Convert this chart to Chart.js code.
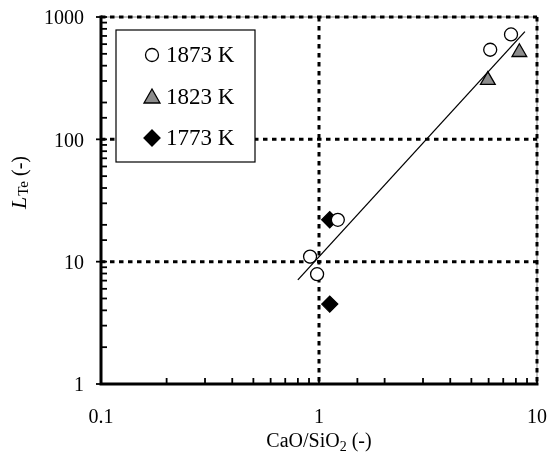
<!DOCTYPE html>
<html>
<head>
<meta charset="utf-8">
<script src="https://cdn.jsdelivr.net/npm/chart.js@4/dist/chart.umd.min.js"></script>
<style>
html,body{margin:0;padding:0;background:#fff;}
#wrap{width:550px;height:464px;}
</style>
</head>
<body>
<div id="wrap"><canvas id="c" width="550" height="464"></canvas></div>
<script>
// ---- data ----
const seriesLabels = ["1873 K", "1823 K", "1773 K"];
const x1873 = [0.91, 0.98, 1.22, 6.1, 7.6];
const y1873 = [11, 7.9, 22, 540, 720];
const x1823 = [5.95, 8.3];
const y1823 = [305, 515];
const x1773 = [1.12, 1.12];
const y1773 = [22, 4.5];
const fitX = [0.8, 8.8];
const fitY = [7.1, 760];
const xTickLabels = ["0.1", "1", "10"];
const yTickLabels = ["1", "10", "100", "1000"];

const FONT = "'Liberation Serif', 'DejaVu Serif', serif";
const pts = (xs, ys) => xs.map((x, i) => ({x: x, y: ys[i]}));
const majorX = xTickLabels.map(Number);
const majorY = yTickLabels.map(Number);
const isMajor = (v, arr) => arr.some(m => Math.abs(m - v) / m < 1e-6);

function drawMarker(ctx, style, x, y) {
  ctx.save();
  ctx.lineWidth = 1.3;
  ctx.strokeStyle = '#000';
  ctx.beginPath();
  if (style === 'circle') {
    ctx.fillStyle = '#fff';
    ctx.arc(x, y, 6.5, 0, Math.PI * 2);
  } else if (style === 'triangle') {
    ctx.fillStyle = '#8c8c8c';
    ctx.moveTo(x, y - 8);
    ctx.lineTo(x + 8, y + 6);
    ctx.lineTo(x - 8, y + 6);
    ctx.closePath();
  } else {
    ctx.fillStyle = '#000';
    ctx.moveTo(x, y - 8);
    ctx.lineTo(x + 8, y);
    ctx.lineTo(x, y + 8);
    ctx.lineTo(x - 8, y);
    ctx.closePath();
  }
  ctx.fill();
  ctx.stroke();
  ctx.restore();
}

const decor = {
  id: 'decor',
  beforeDatasetsDraw(chart) {
    const {ctx, chartArea: a, scales: {x, y}} = chart;
    ctx.save();
    // thin frame
    ctx.strokeStyle = '#888';
    ctx.lineWidth = 1;
    ctx.strokeRect(a.left, a.top, a.right - a.left, a.bottom - a.top);
    // major dashed grid
    ctx.strokeStyle = '#000';
    ctx.lineWidth = 3;
    ctx.setLineDash([4.5, 4.5]);
    majorY.forEach(v => {
      if (v === y.min) return;
      const py = y.getPixelForValue(v);
      ctx.beginPath(); ctx.moveTo(a.left, py); ctx.lineTo(a.right, py); ctx.stroke();
    });
    majorX.forEach(v => {
      if (v === x.min) return;
      const px = x.getPixelForValue(v);
      ctx.beginPath(); ctx.moveTo(px, a.top); ctx.lineTo(px, a.bottom); ctx.stroke();
    });
    ctx.restore();
  },
  afterDatasetsDraw(chart) {
    const {ctx, chartArea: a, scales: {x, y}} = chart;
    ctx.save();
    ctx.strokeStyle = '#000';
    // inward minor/major ticks
    ctx.lineWidth = 1.8;
    y.ticks.forEach(t => {
      const py = y.getPixelForValue(t.value);
      const mj = isMajor(t.value, majorY);
      ctx.beginPath(); ctx.moveTo(a.left - (mj ? 5 : 0), py); ctx.lineTo(a.left + 6, py); ctx.stroke();
    });
    x.ticks.forEach(t => {
      const px = x.getPixelForValue(t.value);
      ctx.beginPath(); ctx.moveTo(px, a.bottom); ctx.lineTo(px, a.bottom - 6); ctx.stroke();
    });
    // axes
    ctx.lineWidth = 3;
    ctx.beginPath();
    ctx.moveTo(a.left, a.top - 1.5);
    ctx.lineTo(a.left, a.bottom);
    ctx.lineTo(a.right + 1.5, a.bottom);
    ctx.stroke();

    // tick labels
    ctx.fillStyle = '#000';
    ctx.font = "20px " + FONT;
    ctx.textBaseline = 'middle';
    ctx.textAlign = 'right';
    yTickLabels.forEach((lab, i) => {
      const py = y.getPixelForValue(majorY[i]);
      ctx.fillText(lab, a.left - 17, py + 2);
    });
    ctx.textAlign = 'center';
    xTickLabels.forEach((lab, i) => {
      const px = x.getPixelForValue(majorX[i]);
      ctx.fillText(lab, px, a.bottom + 34);
    });

    // legend
    const lx = 116, ly = 30, lw = 139, lh = 132;
    ctx.fillStyle = '#fff';
    ctx.fillRect(lx, ly, lw, lh);
    ctx.lineWidth = 1.2;
    ctx.strokeRect(lx, ly, lw, lh);
    const styles = ['circle', 'triangle', 'rectRot'];
    const rows = [55, 97, 138];
    ctx.font = "23px " + FONT;
    ctx.textBaseline = 'middle';
    ctx.textAlign = 'left';
    seriesLabels.forEach((lab, i) => {
      drawMarker(ctx, styles[i], 152, rows[i]);
      ctx.fillStyle = '#000';
      ctx.fillText(lab, 166, rows[i] + 1);
    });

    // x axis title with subscript
    ctx.textBaseline = 'alphabetic';
    const cx = (a.left + a.right) / 2;
    const by = 447;
    const p1 = "CaO/SiO", p3 = " (-)";
    ctx.font = "20px " + FONT; const w1 = ctx.measureText(p1).width;
    ctx.font = "14px " + FONT; const w2 = ctx.measureText("2").width;
    ctx.font = "20px " + FONT; const w3 = ctx.measureText(p3).width;
    let sx = cx - (w1 + w2 + w3) / 2;
    ctx.fillText(p1, sx, by); sx += w1;
    ctx.font = "14px " + FONT; ctx.fillText("2", sx, by + 4); sx += w2;
    ctx.font = "20px " + FONT; ctx.fillText(p3, sx, by);

    // y axis title
    ctx.save();
    ctx.translate(26, 183);
    ctx.rotate(-Math.PI / 2);
    ctx.font = "italic 22px " + FONT; const q1 = ctx.measureText("L").width;
    ctx.font = "15px " + FONT; const q2 = ctx.measureText("Te").width;
    ctx.font = "20px " + FONT; const q3 = ctx.measureText(" (-)").width;
    let tx = -(q1 + q2 + q3) / 2;
    ctx.font = "italic 22px " + FONT; ctx.fillText("L", tx, 0); tx += q1 + 1;
    ctx.font = "15px " + FONT; ctx.fillText("Te", tx, 2); tx += q2;
    ctx.font = "20px " + FONT; ctx.fillText(" (-)", tx, 0);
    ctx.restore();
    ctx.restore();
  }
};

const pointCommon = {borderColor: '#000', borderWidth: 1.3, pointRadius: 6.5, pointHoverRadius: 6.5, showLine: false};

new Chart(document.getElementById('c'), {
  type: 'scatter',
  data: {
    datasets: [
      {label: 'fit', data: pts(fitX, fitY), showLine: true, borderColor: '#000', borderWidth: 1.3, pointRadius: 0, fill: false},
      Object.assign({label: seriesLabels[0], data: pts(x1873, y1873), pointStyle: 'circle', backgroundColor: '#fff'}, pointCommon),
      Object.assign({label: seriesLabels[1], data: pts(x1823, y1823), pointStyle: 'triangle', backgroundColor: '#8c8c8c'}, pointCommon, {pointRadius: 8.5}),
      Object.assign({label: seriesLabels[2], data: pts(x1773, y1773), pointStyle: 'rectRot', backgroundColor: '#000'}, pointCommon, {pointRadius: 8})
    ]
  },
  options: {
    responsive: false,
    animation: false,
    devicePixelRatio: 1,
    layout: {padding: {left: 0, top: 17, right: 13, bottom: 0}},
    plugins: {legend: {display: false}, tooltip: {enabled: false}},
    scales: {
      x: {
        type: 'logarithmic', min: 0.1, max: 10,
        grid: {display: false, drawTicks: false},
        border: {display: false},
        afterFit: s => { s.height = 80; },
        ticks: {display: false, autoSkip: false}
      },
      y: {
        type: 'logarithmic', min: 1, max: 1000,
        grid: {display: false, drawTicks: false},
        border: {display: false},
        afterFit: s => { s.width = 101; },
        ticks: {display: false, autoSkip: false}
      }
    }
  },
  plugins: [decor]
});
</script>
</body>
</html>
